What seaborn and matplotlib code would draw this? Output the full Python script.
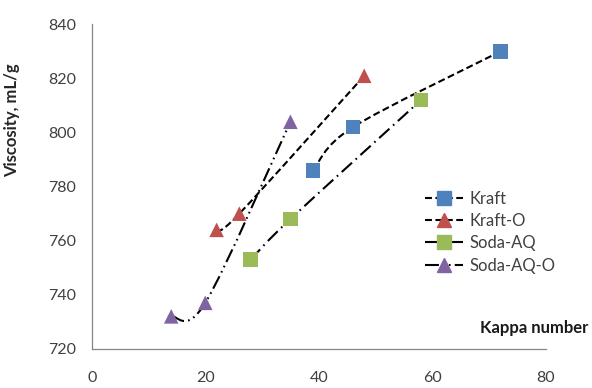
import numpy as np
import pandas as pd
import matplotlib
matplotlib.use("Agg")
import matplotlib.pyplot as plt
from matplotlib.path import Path
from matplotlib.patches import PathPatch
from matplotlib.lines import Line2D
import seaborn as sns

# Data
series = ["Kraft", "Kraft-O", "Soda-AQ", "Soda-AQ-O"]
kraft_kappa = [39, 46, 72]
kraft_visc = [786, 802, 830]
kraft_o_kappa = [22, 26, 48]
kraft_o_visc = [764, 770, 821]
soda_kappa = [28, 35, 58]
soda_visc = [753, 768, 812]
soda_o_kappa = [14, 20, 35]
soda_o_visc = [732, 737, 804]

x_ticks = [0, 20, 40, 60, 80]
y_ticks = [720, 740, 760, 780, 800, 820, 840]

colors = {"Kraft": "#4F81BD", "Kraft-O": "#C0504D",
          "Soda-AQ": "#9BBB59", "Soda-AQ-O": "#8064A2"}
markers = {"Kraft": "s", "Kraft-O": "^", "Soda-AQ": "s", "Soda-AQ-O": "^"}
styles = {"Kraft": (0, (5, 2.5)), "Kraft-O": (0, (5, 2.5)),
          "Soda-AQ": (0, (10, 3.5, 1.2, 3.5)),
          "Soda-AQ-O": (0, (10, 3, 1.2, 3, 1.2, 3))}

df = pd.concat([
    pd.DataFrame({"kappa": kraft_kappa, "visc": kraft_visc, "series": "Kraft"}),
    pd.DataFrame({"kappa": kraft_o_kappa, "visc": kraft_o_visc, "series": "Kraft-O"}),
    pd.DataFrame({"kappa": soda_kappa, "visc": soda_visc, "series": "Soda-AQ"}),
    pd.DataFrame({"kappa": soda_o_kappa, "visc": soda_o_visc, "series": "Soda-AQ-O"}),
], ignore_index=True)

sns.set_style("white")
plt.rcParams["font.family"] = ["Lato", "DejaVu Sans"]
plt.rcParams["lines.scale_dashes"] = False


def smooth_path(xs, ys):
    # Excel-style smoothed line through the points (Bezier segments)
    pts = np.column_stack([xs, ys]).astype(float)
    n = len(pts)
    verts = [pts[0]]
    codes = [Path.MOVETO]
    for i in range(n - 1):
        p0 = pts[max(i - 1, 0)]
        p1 = pts[i]
        p2 = pts[i + 1]
        p3 = pts[min(i + 2, n - 1)]
        verts += [p1 + (p2 - p0) / 6, p2 - (p3 - p1) / 6, p2]
        codes += [Path.CURVE4] * 3
    return Path(verts, codes)


fig = plt.figure(figsize=(5.92, 3.88), dpi=100)
ax = fig.add_axes([0.155, 0.101, 0.767, 0.836])

for s in series:
    d = df[df["series"] == s]
    patch = PathPatch(smooth_path(d["kappa"], d["visc"]), fill=False,
                      edgecolor="black", linewidth=1.5, linestyle=styles[s],
                      zorder=2)
    ax.add_patch(patch)

sns.scatterplot(data=df, x="kappa", y="visc", hue="series", style="series",
                palette=colors, markers=markers, s=110, linewidth=0,
                legend=False, ax=ax, zorder=3)

ax.set_xlim(0, 80)
ax.set_ylim(720, 840)
ax.set_xticks(x_ticks)
ax.set_yticks(y_ticks)
ax.set_xlabel("")
ax.set_ylabel("Viscosity, mL/g", fontsize=12, fontweight="bold",
              color="#262626")
ax.yaxis.set_label_coords(-0.158, 0.705)
sns.despine(ax=ax)
for sp in ["left", "bottom"]:
    ax.spines[sp].set_color("#868686")
    ax.spines[sp].set_linewidth(0.9)
ax.tick_params(axis="both", which="major", direction="out", length=5,
               width=0.9, color="#868686", labelsize=11.5, labelcolor="#404040")
ax.tick_params(axis="x", pad=11)
ax.tick_params(axis="y", pad=6)

fig.text(588 / 592, 1 - 328 / 388, "Kappa number", ha="right", va="center",
         fontsize=12, fontweight="bold", color="#1a1a1a")

handles = [Line2D([], [], color="black", linewidth=1.5, linestyle=styles[s],
                  marker=markers[s], markersize=9.5, markerfacecolor=colors[s],
                  markeredgecolor=colors[s]) for s in series]
leg = fig.legend(handles, series, loc="center left", frameon=False,
                 bbox_to_anchor=(425 / 592, 1 - 232 / 388), fontsize=12,
                 handlelength=2.3, handletextpad=0.35, labelspacing=0.38,
                 borderpad=0, borderaxespad=0)
for t in leg.get_texts():
    t.set_color("#404040")

fig.savefig("out.png", dpi=100)
